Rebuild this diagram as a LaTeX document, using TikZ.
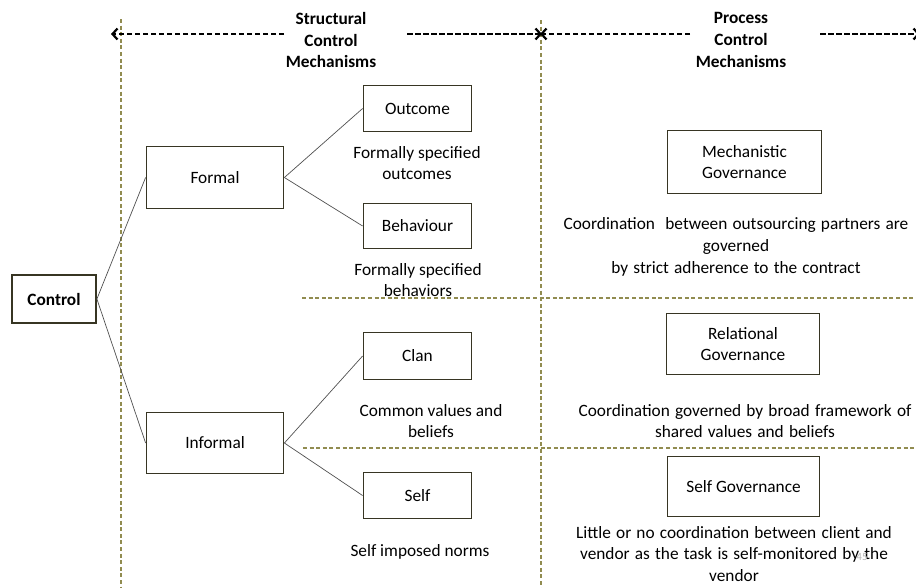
\documentclass[tikz,border=0pt]{standalone}
\usepackage{fontspec}
\setmainfont{Carlito}
\usetikzlibrary{arrows.meta}
\definecolor{boxc}{RGB}{55,53,35}
\definecolor{olv}{RGB}{145,140,80}
\definecolor{connc}{RGB}{80,80,80}
\newcommand\myfs{\fontsize{17.3}{21.8}\selectfont}
\newcommand\widesp{\spaceskip=5.2pt plus 1pt minus 0.5pt\relax}
\begin{document}
\begin{tikzpicture}[x=1pt,y=-1pt,
  box/.style={draw=boxc,line width=1.8pt,fill=white,inner sep=0pt,align=center,font=\myfs},
  lbl/.style={inner sep=0pt,align=center,font=\myfs},
  wlbl/.style={inner sep=0pt,align=center,font=\myfs\widesp},
  head/.style={inner sep=0pt,align=center,font=\myfs\bfseries},
  conn/.style={draw=connc,line width=0.7pt},
  guide/.style={draw=olv,line width=1.5pt,dash pattern=on 4pt off 2.6pt},
  darr/.style={draw=black,line width=1.7pt,dash pattern=on 5.5pt off 2.5pt,-{Straight Barb[length=5pt,width=11pt,line width=2.2pt]}}]
\useasboundingbox (0,0) rectangle (916,587);
% guide lines
\coordinate (v1t) at (121,19); \coordinate (v1b) at (121,590);
\coordinate (v2t) at (541,20); \coordinate (v2b) at (541,590);
\coordinate (h1l) at (302,298); \coordinate (h1r) at (920,298);
\coordinate (h2l) at (303,448); \coordinate (h2r) at (920,448);
\draw[guide] (v1t) -- (v1b);
\draw[guide] (v2t) -- (v2b);
\draw[guide] (h1l) -- (h1r);
\draw[guide] (h2l) -- (h2r);
% headings
\node[head] (hs) at (331,40) {Structural\\Control\\Mechanisms};
\node[head] (hp) at (741,40) {Process\\Control\\Mechanisms};
\coordinate (a1s) at (284,34); \coordinate (a1e) at (111,34);
\coordinate (a2s) at (407,34); \coordinate (a2e) at (542,34);
\coordinate (a3s) at (690,34); \coordinate (a3e) at (540,34);
\coordinate (a4s) at (820,34); \coordinate (a4e) at (920,34);
\draw[darr] (a1s) -- (a1e);
\draw[darr] (a2s) -- (a2e);
\draw[darr] (a3s) -- (a3e);
\draw[darr] (a4s) -- (a4e);
% boxes
\node[box,minimum width=84pt,minimum height=48pt,font=\myfs\bfseries] (ctrl) at (54,299) {Control};
\node[box,minimum width=137pt,minimum height=62pt] (formal) at (215,177.5) {Formal};
\node[box,minimum width=137pt,minimum height=61pt] (informal) at (215,443) {Informal};
\node[box,minimum width=108pt,minimum height=46pt] (outcome) at (417.5,108.5) {Outcome};
\node[box,minimum width=108pt,minimum height=45pt] (behav) at (417.5,226) {Behaviour};
\node[box,minimum width=108pt,minimum height=47pt] (clan) at (417.5,356) {Clan};
\node[box,minimum width=108pt,minimum height=46pt] (self) at (417.5,495.5) {Self};
\node[box,minimum width=154pt,minimum height=63pt] (mech) at (744.5,162) {Mechanistic\\Governance};
\node[box,minimum width=153pt,minimum height=61pt] (rel) at (743,344) {Relational\\Governance};
\node[box,minimum width=152pt,minimum height=60pt] (selfg) at (743.5,486.5) {Self Governance};
% connectors
\draw[conn] (ctrl.east) -- (formal.west);
\draw[conn] (ctrl.east) -- (informal.west);
\draw[conn] (formal.east) -- (outcome.west);
\draw[conn] (formal.east) -- (behav.west);
\draw[conn] (informal.east) -- (clan.west);
\draw[conn] (informal.east) -- (self.west);
% descriptions
\node[lbl] (d1) at (417,163) {Formally specified\\outcomes};
\node[lbl] (d2) at (418,280) {Formally specified\\behaviors};
\node[lbl] (d3) at (431,421) {Common values and\\beliefs};
\node[lbl] (d4) at (420,552) {Self imposed norms};
\node[wlbl] (d5) at (736,247) {Coordination\ \ between outsourcing partners are\\governed\\by strict adherence to the contract};
\node[wlbl] (d6) at (745,421) {Coordination governed by broad framework of\\shared values and beliefs};
\node[wlbl] (d7) at (734,554) {Little or no coordination between client and\\vendor as the task is self-monitored by the\\vendor};
\node[inner sep=0pt,font=\fontsize{11}{12}\selectfont,text=black!30] (pg) at (862,557) {45};
\end{tikzpicture}
\end{document}
